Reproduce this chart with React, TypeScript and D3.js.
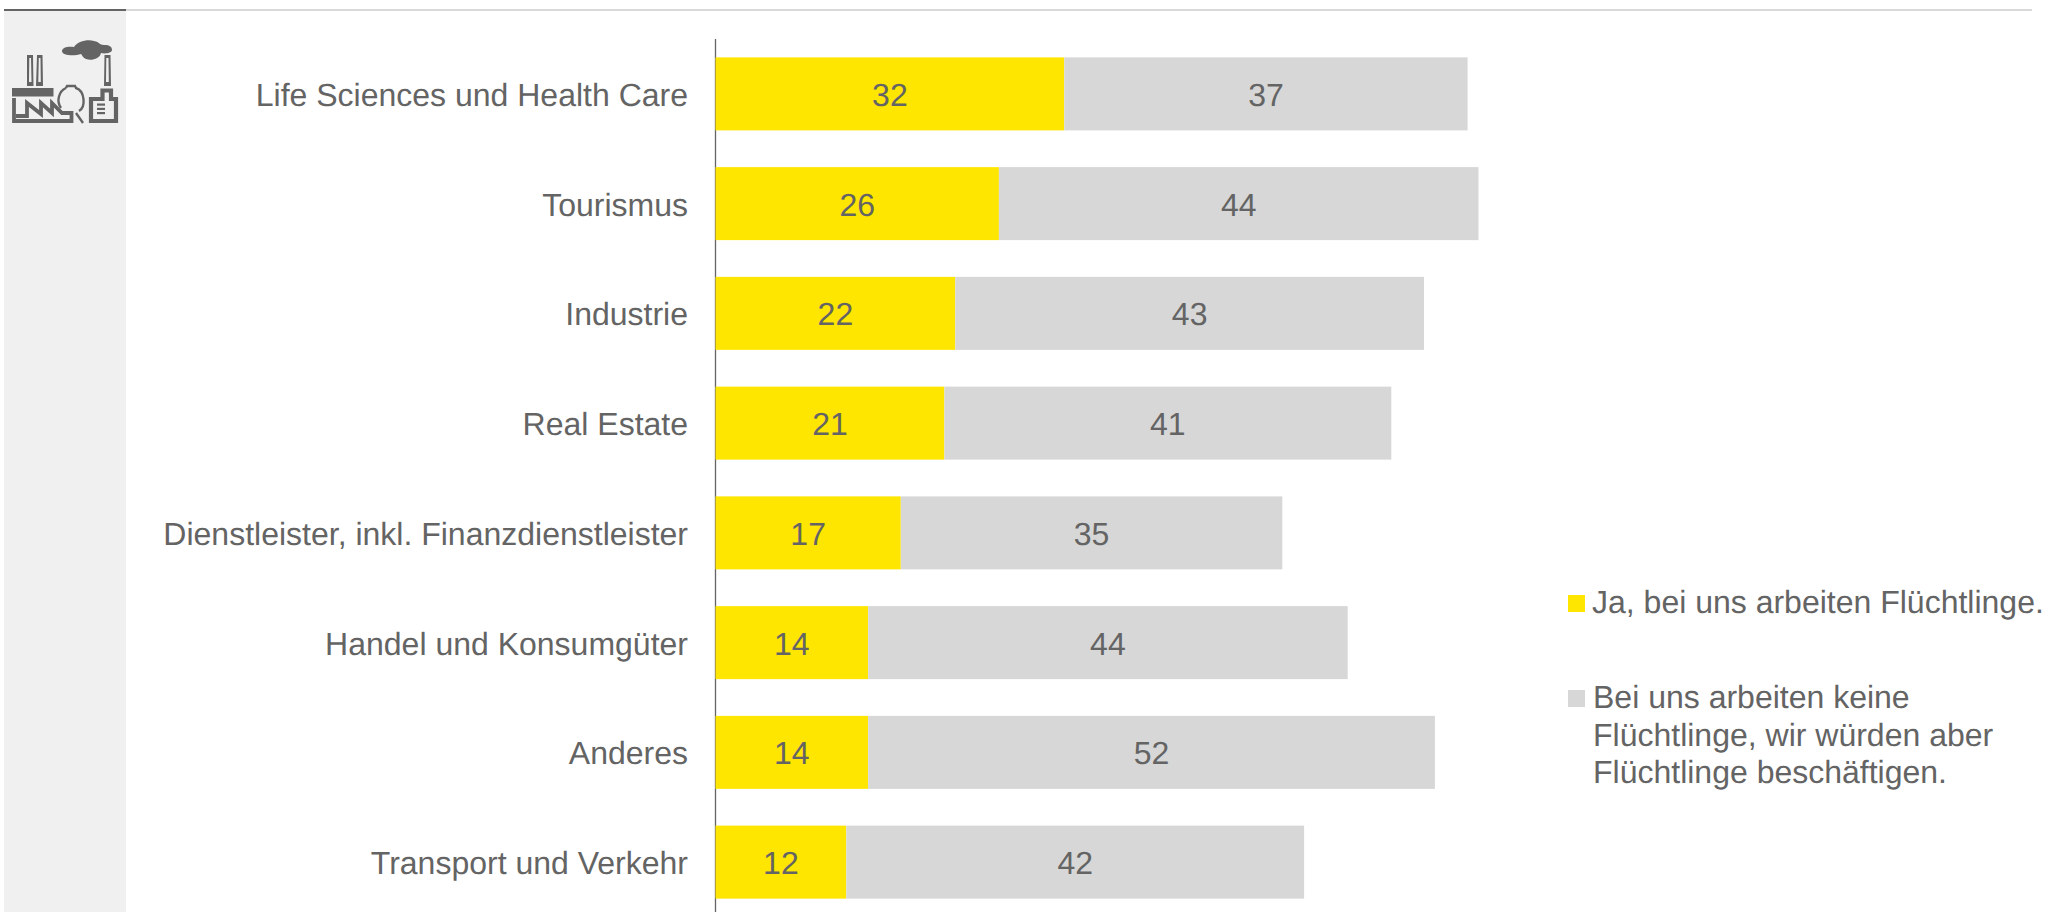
import React from "react";
import * as d3 from "d3";

const categories = [
  "Life Sciences und Health Care",
  "Tourismus",
  "Industrie",
  "Real Estate",
  "Dienstleister, inkl. Finanzdienstleister",
  "Handel und Konsumgüter",
  "Anderes",
  "Transport und Verkehr",
];
const employing = [32, 26, 22, 21, 17, 14, 14, 12];
const wouldEmploy = [37, 44, 43, 41, 35, 44, 52, 42];
const legendFirst = ["Ja, bei uns arbeiten Flüchtlinge."];
const legendSecond = ["Bei uns arbeiten keine", "Flüchtlinge, wir würden aber", "Flüchtlinge beschäftigen."];

const YELLOW = "#ffe600";
const GREY = "#d7d7d7";
const TEXT = "#646464";
const FONT = "'Liberation Sans', Arial, sans-serif";
const SIZE = 32;

const x = d3.scaleLinear().domain([0, 100]).range([715.5, 1805.5]);
const y = d3.scaleBand<string>().domain(categories).range([39, 917]).paddingInner(1 - 73 / 109.75).paddingOuter((1 - 73 / 109.75) / 2);

function IndustryIcon() {
  const c = "#646464";
  return (
    <g fill={c} stroke="none">
      {/* cloud */}
      <path d="M62 51 C62 47 69 46 74 47 C77 42 87 39 94 41 C100 42 99 45 104 45 C110 45 112 47 112 50 C112 53 105 54 101 53 C100 59 91 61 86 59 C83 58 82 55 81 54 C75 56 62 56 62 51 Z" />
      {/* chimneys */}
      <path fillRule="evenodd" d="M27 55 H33 L33.500 86 H27 Z M29.300 58 L29 82 H31.500 L31 58 Z" />
      <path fillRule="evenodd" d="M37 55 H42.500 L43 86 H36 Z M38.800 58 L38.300 82 H40.800 L40.500 58 Z" />
      <path fillRule="evenodd" d="M104.500 55 H110.500 L111 86 H104 Z M106.300 58 L106 82 H108.800 L108.500 58 Z" />
      {/* roof slab */}
      <rect x={12} y={88} width={41.500} height={8.500} />
      {/* factory outline with saw-tooth roof */}
      <path
        fill="none"
        stroke={c}
        strokeWidth={3.800}
        d="M14 98 V121 H71.500 V113 L62 113 L52 103 V113 L41 103 V114 L27 103 V116 H16"
      />
      {/* spherical tank and strut */}
      <path
        fill="none"
        stroke={c}
        strokeWidth={2.400}
        d="M66 88 L67 86 H75 L76 88 C85 91 86 107 79 111 M61 108 C56 101 59 91 66 88 M76 113 L83 123"
      />
      {/* building with document */}
      <path
        fill="none"
        stroke={c}
        strokeWidth={4.200}
        d="M91 99 V121 H116 V99 H111 V90.500 H102.500 V99 Z"
      />
      <rect x={97} y={103.500} width={8} height={2.200} />
      <rect x={97} y={107.800} width={8} height={2.200} />
      <rect x={97} y={112} width={8} height={2.200} />
    </g>
  );
}

export default function App() {
  const band = y.bandwidth();
  return (
    <svg
      width={2046}
      height={912}
      style={{ position: "absolute", left: 0, top: 0, background: "#fff", textRendering: "geometricPrecision" }}
      fontFamily={FONT}
      fontSize={SIZE}
      fill={TEXT}
    >
      <rect x={4} y={10} width={122} height={902} fill="#f0f0f0" />
      <rect x={126} y={9} width={1906} height={2} fill="#d9d9d9" />
      <rect x={4} y={9} width={122} height={2} fill="#646464" />
      <IndustryIcon />

      <line x1={x(0)} x2={x(0)} y1={39} y2={912} stroke="#646464" strokeWidth={1.300} />

      {categories.map((cat, i) => {
        const top = y(cat)!;
        const mid = top + band / 2 + 0.5;
        const a = employing[i];
        const b = wouldEmploy[i];
        return (
          <g key={cat}>
            <text x={688} y={mid} dy="0.36em" textAnchor="end">{cat}</text>
            <rect x={x(0)} y={top} width={x(a) - x(0)} height={band} fill={YELLOW} />
            <rect x={x(a)} y={top} width={x(a + b) - x(a)} height={band} fill={GREY} />
            <text x={x(a / 2)} y={mid} dy="0.36em" textAnchor="middle">{a}</text>
            <text x={x(a + b / 2)} y={mid} dy="0.36em" textAnchor="middle">{b}</text>
          </g>
        );
      })}

      <rect x={1568} y={595} width={17} height={17} fill={YELLOW} />
      {legendFirst.map((t) => (
        <text key={t} x={1592} y={613}>{t}</text>
      ))}
      <rect x={1568} y={690} width={17} height={17} fill={GREY} />
      {legendSecond.map((t, i) => (
        <text key={t} x={1593} y={708 + i * 37.500}>{t}</text>
      ))}
    </svg>
  );
}
